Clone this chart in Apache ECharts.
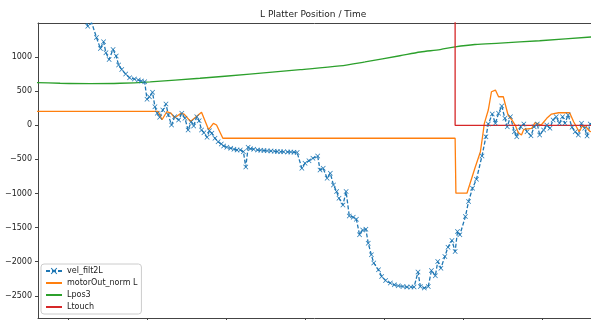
<!DOCTYPE html>
<html>
<head>
<meta charset="utf-8">
<script src="https://cdn.jsdelivr.net/npm/echarts@6/dist/echarts.min.js"></script>
<style>
  html, body { margin: 0; padding: 0; background: #fff; }
  #chart { width: 591px; height: 320px; }
</style>
</head>
<body>
<div id="chart"></div>
<script>
// time (s) and values
const velT = [1.17, 1.25, 1.30, 1.36, 1.41, 1.45, 1.48, 1.52, 1.57, 1.61,
  1.64, 1.68, 1.73, 1.78, 1.84, 1.89, 1.93, 1.97, 2.00, 2.03,
  2.07, 2.10, 2.13, 2.16, 2.20, 2.24, 2.27, 2.31, 2.35, 2.40,
  2.44, 2.48, 2.52, 2.56, 2.59, 2.63, 2.66, 2.69, 2.72, 2.76,
  2.79, 2.82, 2.86, 2.90, 2.94, 2.97, 3.01, 3.06, 3.10, 3.14,
  3.18, 3.22, 3.25, 3.28, 3.31, 3.35, 3.40, 3.44, 3.48, 3.52,
  3.57, 3.61, 3.65, 3.69, 3.73, 3.78, 3.82, 3.86, 3.90, 3.96,
  4.00, 4.05, 4.10, 4.16, 4.19, 4.23, 4.28, 4.32, 4.36, 4.40,
  4.43, 4.48, 4.52, 4.56, 4.61, 4.65, 4.69, 4.73, 4.77, 4.80,
  4.84, 4.87, 4.93, 4.97, 5.02, 5.08, 5.13, 5.18, 5.24, 5.29,
  5.34, 5.38, 5.43, 5.46, 5.51, 5.56, 5.60, 5.65, 5.68, 5.72,
  5.77, 5.81, 5.86, 5.90, 5.93, 5.96, 6.03, 6.07, 6.12, 6.17,
  6.24, 6.29, 6.32, 6.37, 6.41, 6.45, 6.49, 6.53, 6.56, 6.60,
  6.65, 6.68, 6.73, 6.77, 6.81, 6.86, 6.90, 6.94, 6.97, 7.02,
  7.06, 7.10, 7.14, 7.18, 7.22, 7.26, 7.29, 7.33, 7.38, 7.42,
  7.46, 7.50, 7.54, 7.57, 7.61, 7.65];
const velV = [1750, 1453, 1502, 1288, 1127, 1224, 1063, 966, 1113, 1015,
  883, 820, 751, 697, 678, 663, 649, 638, 381, 419,
  483, 272, 176, 117, 224, 312, 151, 4, 126, 78,
  176, 102, -69, 53, -10, 126, 67, -69, -108, -176,
  -79, -117, -190, -240, -274, -303, -322, -337, -351, -362,
  -362, -386, -612, -322, -343, -351, -362, -366, -370, -374,
  -378, -381, -384, -386, -388, -390, -392, -395, -400, -630,
  -556, -518, -483, -450, -654, -630, -776, -703, -874, -972,
  -1069, -1167, -972, -1328, -1347, -1376, -1606, -1533, -1523, -1728,
  -1899, -2020, -2118, -2216, -2275, -2313, -2338, -2353, -2363, -2372,
  -2372, -2372, -2152, -2363, -2386, -2363, -2129, -2206, -1997, -2094,
  -1924, -1786, -1688, -1851, -1558, -1606, -1338, -1118, -922, -791,
  -449, -167, 19, 165, 29, 176, 283, 102, -20, 126,
  -94, -167, -20, 19, -94, -152, -20, 19, -142, -69,
  4, -44, 78, 126, 29, 126, 29, 151, -29, -94,
  -142, 29, -44, -157, 19, 50];

const motorT = [0.55, 2.14, 2.19, 2.25, 2.30, 2.35, 2.43, 2.47, 2.55, 2.69,
  2.78, 2.84, 2.88, 2.96, 5.90, 5.91, 6.05, 6.09, 6.15, 6.22,
  6.25, 6.27, 6.32, 6.36, 6.41, 6.45, 6.51, 6.57, 6.62, 6.66,
  6.70, 6.74, 6.77, 6.87, 6.91, 6.99, 7.06, 7.12, 7.21, 7.35,
  7.40, 7.47, 7.51, 7.56, 7.61, 7.73];
const motorV = [205, 205, 82, 199, 180, 111, 176, 165, 56, 190,
  -64, 29, 4, -190, -190, -995, -995, -849, -630, -387,
  -142, 29, 224, 492, 517, 419, 419, 151, 78, 4,
  -108, -142, -59, -44, 38, 4, 102, 165, 184, 184,
  53, -94, -10, -29, -94, -40];

const posT = [0.55, 0.90, 1.28, 1.66, 2.04, 2.67, 3.30, 3.94, 4.44, 4.76,
  5.20, 5.46, 5.71, 5.90, 6.15, 6.47, 6.97, 7.62, 8.30];
const posV = [627, 617, 612, 617, 638, 690, 750, 815, 870, 930,
  1020, 1075, 1110, 1150, 1185, 1205, 1240, 1295, 1345];

const touchT = [0.55, 5.90, 5.90, 8.30];
const touchV = [3000, 3000, 0, 0];

const xTicks = [1, 2, 3, 4, 5, 6, 7];
const yTicks = [-2500, -2000, -1500, -1000, -500, 0, 500, 1000];

const zip = (xs, ys) => xs.map((x, i) => [x, ys[i]]);
const crossSymbol = 'path://M0,1L1,0L5,4L9,0L10,1L6,5L10,9L9,10L5,6L1,10L0,9L4,5Z';
const font = 'DejaVu Sans';
const hiddenDot = { opacity: 0 };
const spine = { color: '#444', width: 1 };

const chart = echarts.init(document.getElementById('chart'));
chart.setOption({
  animation: false,
  title: {
    text: 'L Platter Position / Time',
    left: 260,
    top: 10,
    padding: 0,
    textStyle: { fontFamily: font, fontSize: 9, fontWeight: 'normal', color: '#222' },
  },
  legend: {
    orient: 'vertical',
    left: 41,
    top: 264,
    padding: [3, 4, 3, 4],
    itemWidth: 16,
    itemHeight: 8,
    itemGap: 4,
    backgroundColor: 'rgba(255,255,255,0.8)',
    borderColor: '#ccc',
    borderWidth: 1,
    borderRadius: 3,
    textStyle: { fontFamily: font, fontSize: 8, color: '#222' },
    data: [
      { name: 'vel_filt2L' },
      { name: 'motorOut_norm L', itemStyle: hiddenDot },
      { name: 'Lpos3', itemStyle: hiddenDot },
      { name: 'Ltouch', itemStyle: hiddenDot },
    ],
  },
  grid: {
    left: 38,
    top: 23,
    right: 0,
    height: 295,
  },
  xAxis: [
    {
      type: 'value',
      min: 0.62,
      max: 7.62,
      axisLine: { onZero: false, lineStyle: spine },
      axisTick: { customValues: xTicks, length: 3, lineStyle: { color: '#444' } },
      axisLabel: { show: false, customValues: xTicks },
      splitLine: { show: false },
    },
    {
      // top spine only
      type: 'value',
      position: 'top',
      min: 0.62,
      max: 7.62,
      axisLine: { onZero: false, lineStyle: spine },
      axisTick: { show: false },
      axisLabel: { show: false },
      splitLine: { show: false },
    },
  ],
  yAxis: {
    type: 'value',
    min: -2825,
    max: 1500,
    axisLine: { show: true, onZero: false, lineStyle: spine },
    axisTick: { show: true, customValues: yTicks, length: 3, lineStyle: { color: '#444' } },
    axisLabel: {
      customValues: yTicks,
      margin: 6,
      fontFamily: font,
      fontSize: 8,
      color: '#222',
      formatter: (v) => String(v).replace('-', '\u2212'),
    },
    splitLine: { show: false },
  },
  series: [
    {
      name: 'vel_filt2L',
      type: 'line',
      data: zip(velT, velV),
      symbol: crossSymbol,
      symbolSize: 5,
      showAllSymbol: true,
      lineStyle: { color: '#1f77b4', width: 1.3, type: [4, 2] },
      itemStyle: { color: '#1f77b4' },
    },
    {
      name: 'motorOut_norm L',
      type: 'line',
      data: zip(motorT, motorV),
      symbol: 'none',
      lineStyle: { color: '#ff7f0e', width: 1.3 },
      itemStyle: { color: '#ff7f0e' },
    },
    {
      name: 'Lpos3',
      type: 'line',
      data: zip(posT, posV),
      symbol: 'none',
      smooth: 0.3,
      lineStyle: { color: '#2ca02c', width: 1.3 },
      itemStyle: { color: '#2ca02c' },
    },
    {
      name: 'Ltouch',
      type: 'line',
      data: zip(touchT, touchV),
      symbol: 'none',
      lineStyle: { color: '#d62728', width: 1.3 },
      itemStyle: { color: '#d62728' },
    },
  ],
});
</script>
</body>
</html>
